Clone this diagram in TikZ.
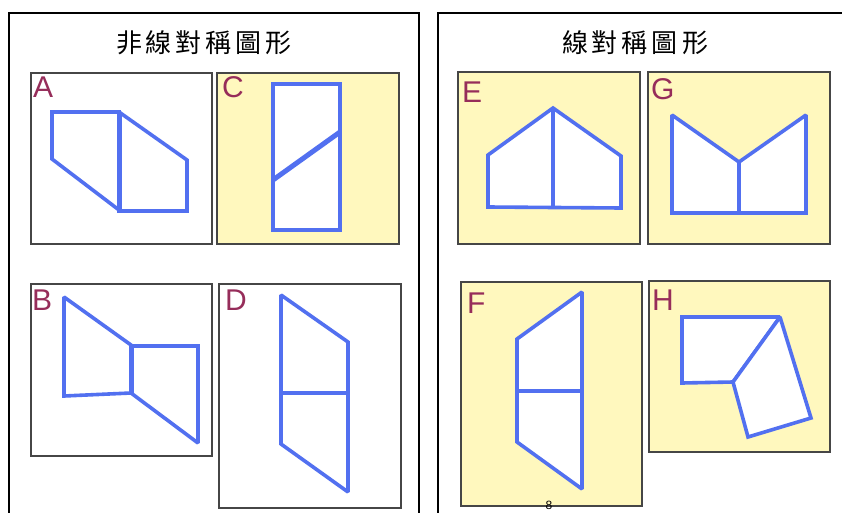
\documentclass[tikz,border=0pt]{standalone}
\usepackage{fontspec}
\setmainfont{Liberation Sans}
\newfontfamily\cjk{Noto Sans CJK TC}
\definecolor{shapeblue}{RGB}{82,112,240}
\definecolor{boxyellow}{RGB}{255,248,190}
\definecolor{labred}{RGB}{150,45,90}
\definecolor{boxgray}{RGB}{70,70,70}
\tikzset{
  panel/.style={draw=boxgray, line width=1.2pt},
  ypanel/.style={panel, fill=boxyellow},
  wpanel/.style={panel, fill=white},
  frame/.style={draw=black, line width=2.6pt},
  shp/.style={draw=shapeblue, line width=3.6pt, fill=white, line join=miter, miter limit=1.6},
  divide/.style={draw=shapeblue, line width=5pt},
  thin/.style={draw=shapeblue, line width=3.6pt},
  lab/.style={text=labred, font=\fontsize{30}{30}\selectfont, anchor=base west, inner sep=0pt},
  ttl/.style={font=\cjk\fontsize{26}{26}\selectfont, inner sep=0pt, text=black}
}
\begin{document}
\begin{tikzpicture}[x=1pt,y=-1pt]
\useasboundingbox (0,0) rectangle (842,513);
\clip (0,0) rectangle (842,513);
\fill[white] (0,0) rectangle (842,513);
% outer frames
\draw[frame] (9,13) rectangle (419,540);
\draw[frame] (438,13) rectangle (860,540);
% titles
\node[ttl] (t1) at (204,43) {非\hspace{4pt}線\hspace{4pt}對\hspace{4pt}稱\hspace{4pt}圖\hspace{4pt}形};
\node[ttl] (t2) at (635,43) {線\hspace{4pt}對\hspace{4pt}稱\hspace{4pt}圖\hspace{4pt}形};
% panels
\draw[wpanel] (31,73) rectangle (212,244);
\draw[ypanel] (217,73) rectangle (399,244);
\draw[wpanel] (31,284) rectangle (212,456);
\draw[wpanel] (219,284) rectangle (401,508);
\draw[ypanel] (458,72) rectangle (640,244);
\draw[ypanel] (648,72) rectangle (830,244);
\draw[ypanel] (461,282) rectangle (642,506);
\draw[ypanel] (649,281) rectangle (830,452);
% labels
\node[lab] (la) at (33,98) {A};
\node[lab] (lc) at (222,98) {C};
\node[lab] (lb) at (32,310) {B};
\node[lab] (ld) at (225,310) {D};
\node[lab] (le) at (462,103) {E};
\node[lab] (lg) at (651,100) {G};
\node[lab] (lf) at (467,313) {F};
\node[lab] (lh) at (652,310) {H};
% A
\draw[shp] (52,112) -- (119,112) -- (119,210) -- (52,159) -- cycle;
\draw[shp] (119,112) -- (187,160) -- (187,211) -- (119,211) -- cycle;
\draw[divide] (119,112) -- (119,211);
% C
\draw[shp] (273,84) rectangle (340,230);
\draw[divide] (273,180) -- (340,132);
% B
\draw[shp] (64,297) -- (131,345) -- (131,393) -- (64,396) -- cycle;
\draw[shp] (131,346) -- (198,346) -- (198,443) -- (131,393) -- cycle;
\draw[divide] (131,345) -- (131,394);
% D
\draw[shp] (281,295) -- (348,342) -- (348,492) -- (281,444) -- cycle;
\draw[thin] (281,393) -- (348,393);
% E
\draw[shp] (488,155) -- (553,108) -- (621,156) -- (621,208) -- (488,207) -- cycle;
\draw[thin] (553,108) -- (553,208);
% G
\draw[shp] (672,115) -- (739,162) -- (806,115) -- (806,213) -- (672,213) -- cycle;
\draw[thin] (739,162) -- (739,213);
% F
\draw[shp] (517,339) -- (582,292) -- (582,489) -- (517,442) -- cycle;
\draw[thin] (517,391) -- (582,391);
% H
\draw[shp] (682,317) -- (780,317) -- (733,382) -- (682,383) -- cycle;
\draw[shp] (733,382) -- (780,317) -- (811,418) -- (748,437) -- cycle;
% page number
\node[font=\fontsize{12}{12}\selectfont, inner sep=0pt, anchor=north] (pg) at (549,501) {8};
\end{tikzpicture}
\end{document}
